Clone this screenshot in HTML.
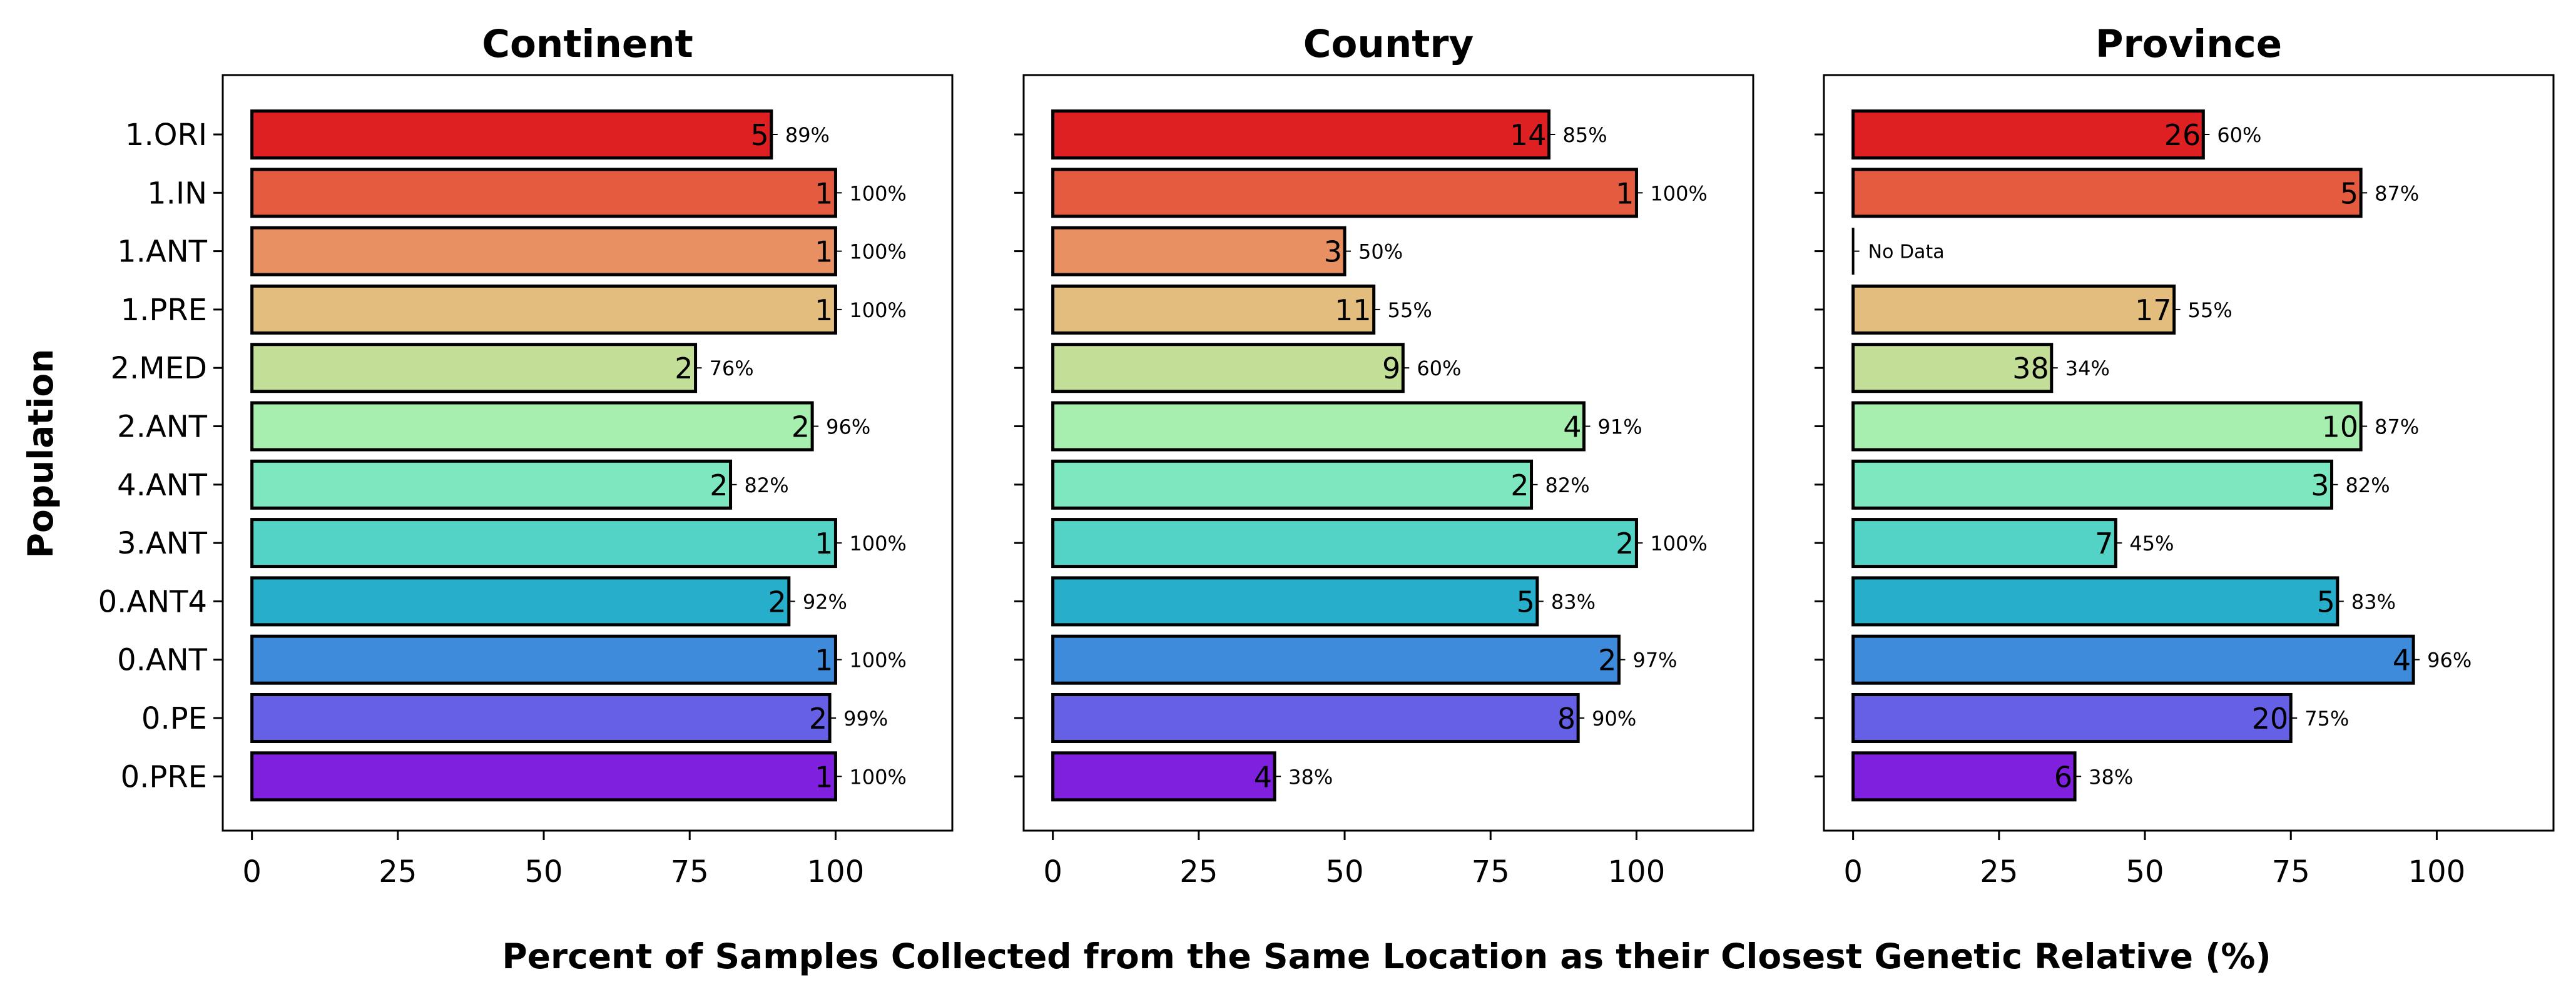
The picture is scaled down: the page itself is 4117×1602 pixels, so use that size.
<!DOCTYPE html>
<html><head><meta charset="utf-8"><style>
html,body{margin:0;padding:0;background:#fff}
svg{display:block;font-family:"DejaVu Sans","Liberation Sans",sans-serif}
</style></head><body>
<svg id="chart" width="4117" height="1602" viewBox="0 0 4117 1602" xmlns="http://www.w3.org/2000/svg">
<text x="84" y="725" font-size="55" font-weight="bold" text-anchor="middle" transform="rotate(-90 84 725)">Population</text>
<text x="2216" y="1548" font-size="55" font-weight="bold" text-anchor="middle">Percent of Samples Collected from the Same Location as their Closest Genetic Relative (%)</text>
</svg>
<script>
const categories = ["1.ORI","1.IN","1.ANT","1.PRE","2.MED","2.ANT","4.ANT","3.ANT","0.ANT4","0.ANT","0.PE","0.PRE"];
const colors = ["#DF2022","#E55B40","#E89062","#E2BD7D","#C3DE96","#A6EFAF","#7DE8BF","#53D3C6","#27AECB","#3E8ADB","#6560E6","#7F20DE"];
const panelTitles = ["Continent","Country","Province"];
const continentPct = [89,100,100,100,76,96,82,100,92,100,99,100];
const continentN = [5,1,1,1,2,2,2,1,2,1,2,1];
const countryPct = [85,100,50,55,60,91,82,100,83,97,90,38];
const countryN = [14,1,3,11,9,4,2,2,5,2,8,4];
const provincePct = [60,87,null,55,34,87,82,45,83,96,75,38];
const provinceN = [26,5,null,17,38,10,3,7,5,4,20,6];
const xTicks = [0,25,50,75,100];

const NS = "http://www.w3.org/2000/svg";
const svg = document.getElementById("chart");
function mk(tag, attrs, parent){
  const e = document.createElementNS(NS, tag);
  for (const k in attrs) e.setAttribute(k, attrs[k]);
  (parent||svg).appendChild(e);
  return e;
}
const panels = [
  {left:356, pct:continentPct, n:continentN},
  {left:1636, pct:countryPct, n:countryN},
  {left:2915, pct:provincePct, n:provinceN}
];
const W = 1166, TOP = 120, BOT = 1328;
const yFirst = 215, yStep = 93.3, barH = 75;
panels.forEach((p, pi) => {
  const g = mk("g", {});
  
  
  const xs = v => p.left + (v + 5) / 125 * W;
  const ys = i => yFirst + i * yStep;
  const t = mk("text", {x: p.left + W/2, y: 91, "font-size": 61, "font-weight": "bold", "text-anchor": "middle"}, g);
  t.textContent = panelTitles[pi];
  
  
  categories.forEach((c, i) => {
    const y = ys(i);
    const tk = mk("line", {x1: p.left - 15, x2: p.left, y1: y, y2: y, stroke: "#000", "stroke-width": 3}, g);
    
    
    if (pi === 0) {
      const lb = mk("text", {x: p.left - 25, y: y + 17, "font-size": 48, "text-anchor": "end"}, g);
      lb.textContent = c;
      
      
    }
    const v = p.pct[i];
    const x0 = xs(0);
    if (v === null) {
      const ln = mk("line", {x1: x0, x2: x0, y1: y - barH/2, y2: y + barH/2, stroke: "#000", "stroke-width": 4}, g);
      
      
      mk("line", {x1: x0 + 2, x2: x0 + 10, y1: y, y2: y, stroke: "#000", "stroke-width": 2}, g);
      const nd = mk("text", {x: x0 + 24, y: y + 11, "font-size": 30}, g);
      nd.textContent = "No Data";
      
      
      return;
    }
    const x1 = xs(v);
    const r = mk("rect", {x: x0, y: y - barH/2, width: x1 - x0, height: barH, fill: colors[i], stroke: "#000", "stroke-width": 5}, g);
    
    
    const nt = mk("text", {x: x1 - 4, y: y + 17, "font-size": 46, "text-anchor": "end"}, g);
    nt.textContent = p.n[i];
    
    
    mk("line", {x1: x1 + 2, x2: x1 + 10, y1: y, y2: y, stroke: "#000", "stroke-width": 2}, g);
    const pt = mk("text", {x: x1 + 22, y: y + 12, "font-size": 32}, g);
    pt.textContent = v + "%";
    
    
  });
  xTicks.forEach(v => {
    const x = xs(v);
    const tk = mk("line", {x1: x, x2: x, y1: BOT, y2: BOT + 15, stroke: "#000", "stroke-width": 3}, g);
    
    
    const lb = mk("text", {x: x, y: BOT + 82, "font-size": 48, "text-anchor": "middle"}, g);
    lb.textContent = v;
    
    
  });
  const fr = mk("rect", {x: p.left, y: TOP, width: W, height: BOT - TOP, fill: "none", stroke: "#000", "stroke-width": 3}, g);
  
  
});
</script>
</body></html>
